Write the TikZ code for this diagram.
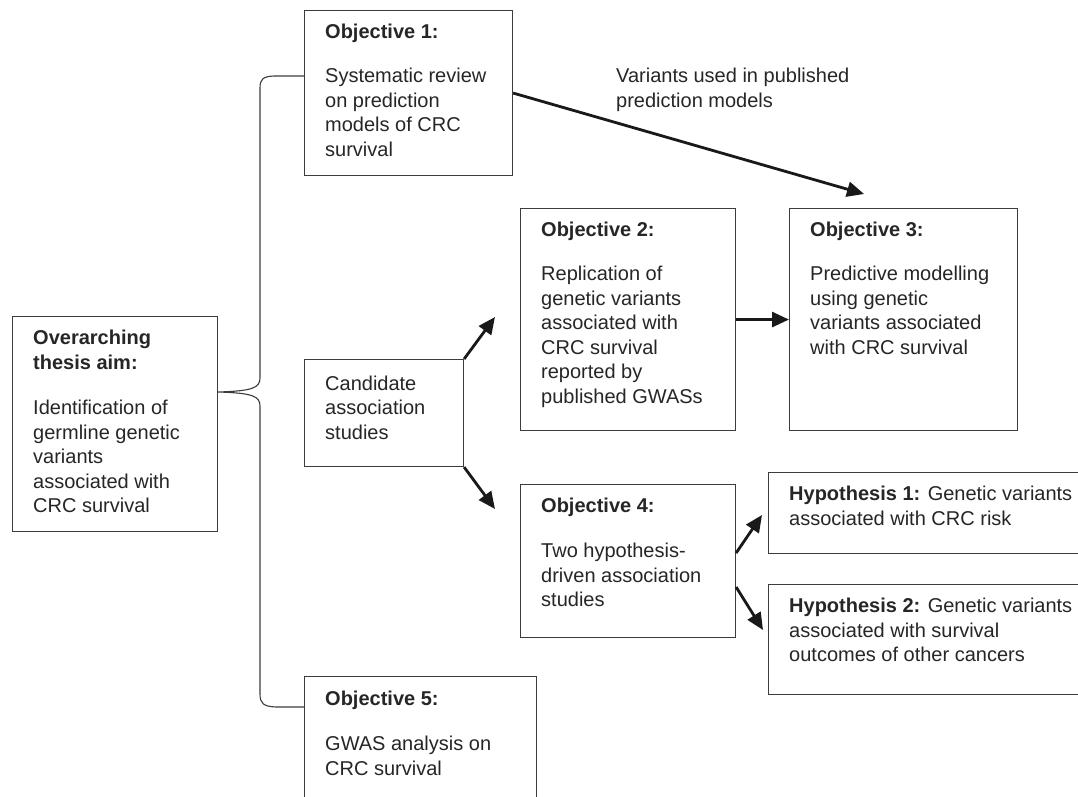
\documentclass[tikz,border=0pt]{standalone}
\usepackage{fontspec}
\setmainfont{Liberation Sans}
\usetikzlibrary{arrows.meta,calc}
\definecolor{txtc}{HTML}{262626}
\definecolor{linec}{HTML}{3C3C3C}
\begin{document}
\begin{tikzpicture}[x=1pt,y=-1pt,
  box/.style={draw=linec, line width=1.1pt, rectangle, anchor=north west, inner sep=0pt},
  txt/.style={anchor=north west, inner sep=0pt, align=left, text=txtc, font=\fontsize{20}{24.5}\selectfont},
  arr/.style={line width=2.8pt, -{Triangle[length=17pt,width=15pt]}, draw=black!90, fill=black!90},
  bracel/.style={draw=linec, line width=1.1pt}
]
\clip (0,0) rectangle (1078,797);
\fill[white] (0,0) rectangle (1078,797);

% boxes
\node[box, minimum width=205pt, minimum height=215pt] (aim) at (12,316) {};
\node[box, minimum width=208pt, minimum height=165pt] (o1) at (304,10) {};
\node[box, minimum width=159pt, minimum height=107pt] (cand) at (304,359) {};
\node[box, minimum width=215pt, minimum height=222pt] (o2) at (520,208) {};
\node[box, minimum width=228pt, minimum height=222pt] (o3) at (789,208) {};
\node[box, minimum width=215pt, minimum height=153pt] (o4) at (520,484) {};
\node[box, minimum width=320pt, minimum height=81pt] (h1) at (768,472) {};
\node[box, minimum width=320pt, minimum height=110pt] (h2) at (768,584) {};
\node[box, minimum width=232pt, minimum height=140pt] (o5) at (304,676) {};

% texts
\node[txt] (aimt) at ($(aim.north west)+(21,14)$) {\textbf{Overarching}\\\textbf{thesis aim:}\\[21pt]Identification of\\germline genetic\\variants\\associated with\\CRC survival};
\node[txt] (o1t) at ($(o1.north west)+(21,14)$) {\textbf{Objective 1:}\\[19.5pt]Systematic review\\on prediction\\models of CRC\\survival};
\node[txt] (candt) at ($(cand.north west)+(21,16.5)$) {Candidate\\association\\studies};
\node[txt] (o2t) at ($(o2.north west)+(21,14)$) {\textbf{Objective 2:}\\[19.5pt]Replication of\\genetic variants\\associated with\\CRC survival\\reported by\\published GWASs};
\node[txt] (o3t) at ($(o3.north west)+(21,14)$) {\textbf{Objective 3:}\\[19.5pt]Predictive modelling\\using genetic\\variants associated\\with CRC survival};
\node[txt] (o4t) at ($(o4.north west)+(21,13.5)$) {\textbf{Objective 4:}\\[21pt]Two hypothesis-\\driven association\\studies};
\node[txt] (h1t) at ($(h1.north west)+(21,14)$) {\textbf{Hypothesis 1:} Genetic variants\\associated with CRC risk};
\node[txt] (h2t) at ($(h2.north west)+(21,14)$) {\textbf{Hypothesis 2:} Genetic variants\\associated with survival\\outcomes of other cancers};
\node[txt] (o5t) at ($(o5.north west)+(21,14.5)$) {\textbf{Objective 5:}\\[21pt]GWAS analysis on\\CRC survival};
\node[txt] (lab) at (616,68) {Variants used in published\\prediction models};

% brace
\coordinate (bt) at ($(o1.north west)+(0,66)$);
\coordinate (bb) at ($(o5.north west)+(0,31)$);
\coordinate (bc) at ($(aim.north east)+(0,76)$);
\draw[bracel] (bt) -- (274,76) .. controls (263,76.5) and (260,79) .. (260,88)
  -- (260,378) .. controls (260,388) and (252,391) .. (bc)
  .. controls (252,393) and (260,396) .. (260,406)
  -- (260,694) .. controls (260,703) and (263,706.5) .. (276,707) -- (bb);

% arrows
\coordinate (a13) at (864,194);
\coordinate (a2) at (495,317);
\coordinate (a4) at (495,509);
\coordinate (s1) at ($(o4.north east)+(0,69)$);
\coordinate (t1) at (762,515);
\coordinate (s2) at ($(o4.north east)+(0,103)$);
\coordinate (t2) at (763,630);
\draw[arr] (o1.east) -- (a13);
\draw[arr] (o2.east) -- (o3.west);
\draw[arr] (cand.north east) -- (a2);
\draw[arr] (cand.south east) -- (a4);
\draw[arr] (s1) -- (t1);
\draw[arr] (s2) -- (t2);
\end{tikzpicture}
\end{document}
